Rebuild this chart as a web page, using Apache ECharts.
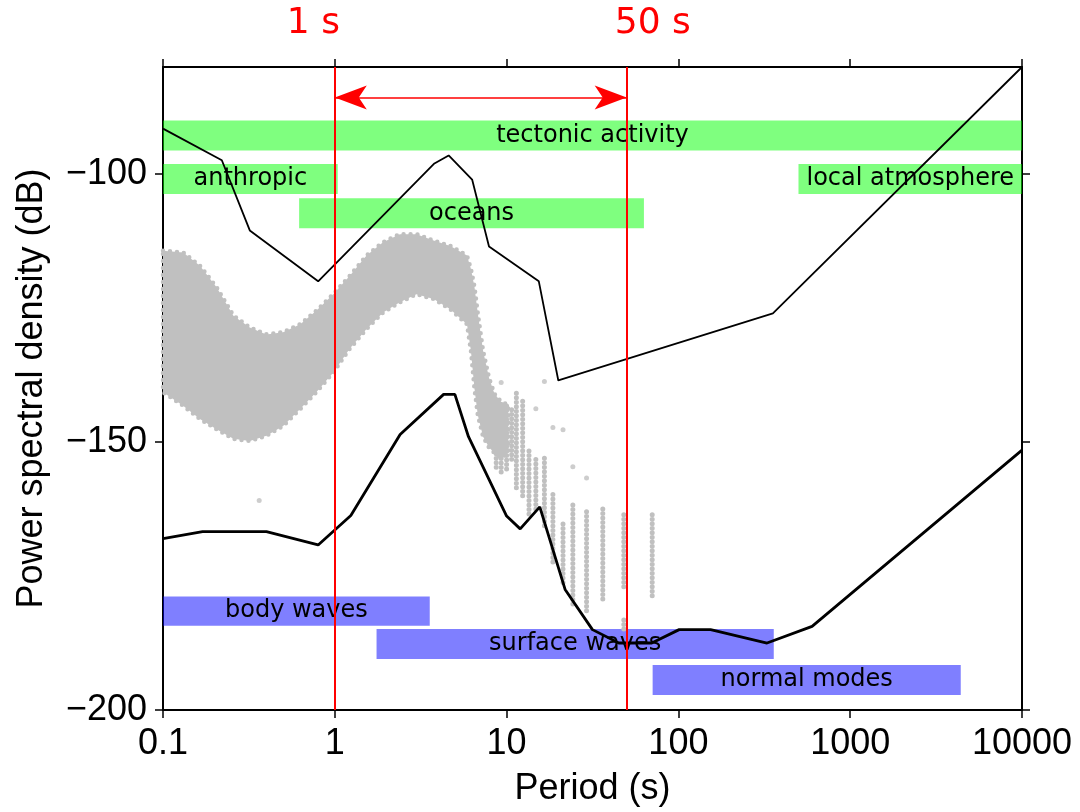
<!DOCTYPE html>
<html>
<head>
<meta charset="utf-8">
<script src="https://cdn.jsdelivr.net/npm/echarts@6/dist/echarts.min.js"></script>
<style>html,body{margin:0;padding:0;background:#fff}#c{width:1080px;height:812px}</style>
</head>
<body>
<div id="c"></div>
<script>
// ---------- data ----------
const xTickValues = [0.1, 1, 10, 100, 1000, 10000];
const yTickValues = [-200, -150, -100];

// New High Noise Model (thin black)
const nhnmPeriod = [0.1, 0.22, 0.32, 0.8, 3.8, 4.6, 6.3, 7.9, 15.4, 20, 354.8, 10000];
const nhnmDb     = [-91.5, -97.4, -110.5, -120, -98, -96.5, -101, -113.5, -120, -138.5, -126, -80];

// New Low Noise Model (thick black)
const nlnmPeriod = [0.1, 0.17, 0.4, 0.8, 1.24, 2.4, 4.3, 5, 6, 10, 12, 15.6, 21.9, 31.6, 45, 70, 101, 154, 328, 600, 10000];
const nlnmDb     = [-168, -166.7, -166.7, -169.2, -163.7, -148.6, -141.1, -141.1, -149, -163.8, -166.2, -162.1, -177.5, -185, -187.5, -187.5, -185, -185, -187.5, -184.4, -151.5];

// dense grey cloud of measured PSD points: envelope
const cloudPeriod = [0.1, 0.131, 0.164, 0.205, 0.257, 0.32, 0.40, 0.50, 0.63, 0.78, 0.98, 1.22, 1.53, 1.91, 2.39, 2.99, 3.76, 4.7, 5.88, 6.2, 6.5, 6.8, 7.3, 7.9, 8.5, 9.3, 10.2];
const cloudUpper  = [-114.3, -114.6, -117.1, -121.1, -126.4, -128.6, -129.9, -129.5, -128.0, -125.5, -122.4, -119.0, -115.2, -112.7, -111.2, -111.2, -112.4, -113.4, -115.2, -117.7, -121, -126, -133, -138, -141, -142.5, -143];
const cloudLower  = [-140.7, -143.2, -145.7, -147.6, -149.4, -149.8, -148.8, -147.0, -143.8, -140.7, -137.0, -132.6, -128.9, -125.8, -123.9, -122.4, -123.3, -125.2, -128.0, -133, -140, -145, -149, -151, -152, -153, -152];

// sparse columns of grey points at long periods
const columnPeriod = [8.7, 9.3, 10.0, 10.7, 11.4, 12.4, 13.5, 14.8, 16.6, 18.6, 21.3, 24.3, 29.2, 36.3, 48.1, 48.1, 70.4];
const columnLow    = [-154.7, -155.6, -155, -153.2, -158.5, -160, -163.4, -162.5, -165.6, -172.4, -176.2, -180.2, -181.5, -179.3, -177, -184.9, -178.7];
const columnHigh   = [-142.3, -142.9, -143.2, -143.2, -140.4, -142.3, -151.3, -153.2, -152.6, -159.1, -164.7, -161.6, -162.8, -162.2, -162.8, -182.4, -163.4];

// isolated grey points
const outlierPeriod = [0.363, 9.3, 14.8, 16.6, 18.6, 21.3, 24.3, 29.2];
const outlierDb     = [-160.9, -138.9, -143.8, -138.7, -147.3, -147.7, -154.6, -156.7];

// noise sources (green) and signals (blue)
const noiseNames  = ['tectonic activity', 'anthropic', 'oceans', 'local atmosphere'];
const noiseStart  = [0.1, 0.1, 0.62, 500];
const noiseEnd    = [10000, 1.04, 63, 10000];
const noiseTop    = [-90.0, -98.1, -104.5, -98.1];
const noiseBottom = [-95.6, -103.7, -110.1, -103.7];

const waveNames  = ['body waves', 'surface waves', 'normal modes'];
const waveStart  = [0.1, 1.75, 70.8];
const waveEnd    = [3.57, 359, 4400];
const waveTop    = [-178.8, -184.9, -191.6];
const waveBottom = [-184.3, -190.5, -197.2];

// red period markers
const markerPeriods = [1, 50];
const markerLabels = ['1 s', '50 s'];
const markerLabelPeriods = [0.75, 71];
const markerLabelDb = -72;
const arrowDb = -85.7;

// ---------- chart ----------
const chart = echarts.init(document.getElementById('c'), null, {renderer: 'canvas'});
const FONT = 'Liberation Sans, Arial, Helvetica, sans-serif';
const DJV = 'DejaVu Sans, sans-serif';
const GREY = '#c0c0c0';

const fmtX = v => String(+(+v).toPrecision(6));
const fmtY = v => String(v).replace('-', '\u2212');

const axisLineStyle = {show: true, onZero: false, lineStyle: {color: '#000', width: 2}};
const axisTickStyle = {show: true, inside: false, length: 8, lineStyle: {color: '#000', width: 1.5}};

function bandData(names, s, e, t, b) {
  return names.map((n, i) => [
    {name: n, xAxis: s[i], yAxis: t[i]},
    {xAxis: e[i], yAxis: b[i]}
  ]);
}

const option = {
  animation: false,
  backgroundColor: '#fff',
  grid: {left: 163, right: 58, top: 67, bottom: 100, containLabel: false},
  xAxis: [
    {
      type: 'log', logBase: 10, min: 0.1, max: 10000, position: 'bottom',
      axisLine: axisLineStyle, axisTick: axisTickStyle,
      minorTick: {show: false}, splitLine: {show: false},
      axisLabel: {fontSize: 36, fontFamily: FONT, color: '#000', margin: 16, formatter: fmtX},
      name: 'Period (s)', nameLocation: 'middle', nameGap: 61,
      nameTextStyle: {fontSize: 36, fontFamily: FONT, color: '#000'}
    },
    {
      type: 'log', logBase: 10, min: 0.1, max: 10000, position: 'top',
      axisLine: axisLineStyle, axisTick: axisTickStyle,
      minorTick: {show: false}, splitLine: {show: false},
      axisLabel: {show: false}
    }
  ],
  yAxis: [
    {
      type: 'value', min: -200, max: -80, interval: 50, position: 'left',
      axisLine: axisLineStyle,
      axisTick: Object.assign({}, axisTickStyle, {customValues: yTickValues}),
      splitLine: {show: false},
      axisLabel: {fontSize: 36, fontFamily: FONT, color: '#000', margin: 16, formatter: fmtY, customValues: yTickValues},
      name: 'Power spectral density (dB)', nameLocation: 'middle', nameGap: 113,
      nameTextStyle: {fontSize: 36, fontFamily: FONT, color: '#000'}
    },
    {
      type: 'value', min: -200, max: -80, interval: 50, position: 'right',
      axisLine: axisLineStyle,
      axisTick: Object.assign({}, axisTickStyle, {customValues: yTickValues}),
      splitLine: {show: false},
      axisLabel: {show: false}
    }
  ],
  series: [
    {
      name: 'cloud', type: 'custom', xAxisIndex: 0, yAxisIndex: 0, silent: true, z: 1,
      data: [[cloudPeriod[0], cloudUpper[0]]],
      encode: {x: 0, y: 1},
      renderItem: function (params, api) {
        const pts = [];
        for (let i = 0; i < cloudPeriod.length; i++) pts.push(api.coord([cloudPeriod[i], cloudUpper[i]]));
        for (let i = cloudPeriod.length - 1; i >= 0; i--) pts.push(api.coord([cloudPeriod[i], cloudLower[i]]));
        return {
          type: 'group',
          children: [
            {type: 'polygon', shape: {points: pts}, style: {fill: GREY, stroke: null, lineWidth: 0}},
            {type: 'polygon', shape: {points: pts}, style: {fill: null, stroke: GREY, lineWidth: 4.5, lineDash: [0, 7], lineCap: 'round'}}
          ]
        };
      }
    },
    {
      name: 'columns', type: 'custom', xAxisIndex: 0, yAxisIndex: 0, silent: true, z: 1,
      data: columnPeriod.map((p, i) => [p, columnLow[i], columnHigh[i]]),
      encode: {x: 0, y: [1, 2]},
      renderItem: function (params, api) {
        const a = api.coord([api.value(0), api.value(1)]);
        const b = api.coord([api.value(0), api.value(2)]);
        return {
          type: 'line',
          shape: {x1: a[0], y1: a[1], x2: b[0], y2: b[1]},
          style: {stroke: GREY, lineWidth: 5, lineDash: [0, 4.5], lineCap: 'round'}
        };
      }
    },
    {
      name: 'outliers', type: 'scatter', xAxisIndex: 0, yAxisIndex: 0, silent: true, z: 1,
      symbolSize: 5, itemStyle: {color: GREY},
      data: outlierPeriod.map((p, i) => [p, outlierDb[i]])
    },
    {
      name: 'NHNM', type: 'line', xAxisIndex: 0, yAxisIndex: 0, silent: true, z: 3,
      symbol: 'none', lineStyle: {color: '#000', width: 1.8},
      data: nhnmPeriod.map((p, i) => [p, nhnmDb[i]])
    },
    {
      name: 'NLNM', type: 'line', xAxisIndex: 0, yAxisIndex: 0, silent: true, z: 3,
      symbol: 'none', lineStyle: {color: '#000', width: 2.8},
      data: nlnmPeriod.map((p, i) => [p, nlnmDb[i]])
    },
    {
      name: 'markers', type: 'line', xAxisIndex: 0, yAxisIndex: 0, silent: true, z: 4,
      data: [],
      markLine: {
        silent: true, animation: false,
        label: {show: false},
        emphasis: {disabled: true},
        data: markerPeriods.map(p => ({xAxis: p, symbol: 'none', lineStyle: {color: '#ff0000', width: 2, type: 'solid'}})).concat([
          [
            {coord: [markerPeriods[0], arrowDb], symbol: 'arrow', symbolSize: [18, 32]},
            {coord: [markerPeriods[1], arrowDb], symbol: 'arrow', symbolSize: [18, 32],
             lineStyle: {color: '#ff0000', width: 1.6, type: 'solid'}}
          ]
        ]),
        symbol: ['none', 'none'],
        lineStyle: {color: '#ff0000', width: 1.6, type: 'solid'},
        itemStyle: {color: '#ff0000'}
      }
    },
    {
      name: 'noise', type: 'line', xAxisIndex: 0, yAxisIndex: 0, silent: true, z: 6,
      data: [],
      markArea: {
        silent: true,
        itemStyle: {color: 'rgba(0,255,0,0.5)', borderWidth: 0},
        label: {show: true, position: 'inside', color: '#000', fontSize: 24, fontFamily: DJV},
        emphasis: {disabled: true},
        data: bandData(noiseNames, noiseStart, noiseEnd, noiseTop, noiseBottom)
      }
    },
    {
      name: 'waves', type: 'line', xAxisIndex: 0, yAxisIndex: 0, silent: true, z: 6,
      data: [],
      markArea: {
        silent: true,
        itemStyle: {color: 'rgba(0,0,255,0.5)', borderWidth: 0},
        label: {show: true, position: 'inside', color: '#000', fontSize: 24, fontFamily: DJV},
        emphasis: {disabled: true},
        data: bandData(waveNames, waveStart, waveEnd, waveTop, waveBottom)
      }
    }
  ]
};
chart.setOption(option);

// red period labels above the plot, positioned through the axes
const labelGraphics = markerLabels.map((t, i) => {
  const pt = chart.convertToPixel({xAxisIndex: 0, yAxisIndex: 0}, [markerLabelPeriods[i], markerLabelDb]);
  return {
    type: 'text', x: pt[0], y: pt[1], silent: true, z: 100,
    style: {text: t, fill: '#ff0000', fontSize: 36, fontFamily: DJV,
            textAlign: 'center', textVerticalAlign: 'middle', align: 'center', verticalAlign: 'middle'}
  };
});
chart.setOption({graphic: labelGraphics});
</script>
</body>
</html>
